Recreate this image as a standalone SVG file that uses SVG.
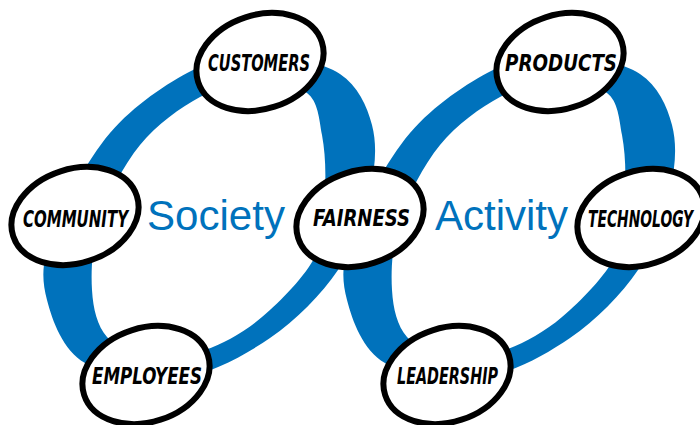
<svg xmlns="http://www.w3.org/2000/svg" xmlns:xlink="http://www.w3.org/1999/xlink" width="700" height="425" viewBox="0 0 700 425">
<style>
.ring{fill:#0072BC;fill-rule:evenodd}
.node ellipse{fill:#fff;stroke:#000;stroke-width:6}
.node text{font-family:"Liberation Sans Narrow","DejaVu Sans Condensed","Liberation Sans",sans-serif;font-weight:bold;font-style:italic;font-size:23px;fill:#000;text-anchor:middle}
.big{font-family:"Liberation Sans",Arial,sans-serif;font-size:42px;fill:#0072BC}
</style>
<defs>
<path id="ring" class="ring" d="M193,70 C218.8,57 240.5,54.3 265,55 C289.5,55.7 322.2,62.3 340,74 C357.8,85.7 367,105.7 372,125 C377,144.3 375.7,165.8 370,190 C364.3,214.2 354.7,245.3 338,270 C321.3,294.7 296.3,320 270,338 C243.7,356 210.8,373.8 180,378 C149.2,382.2 107.2,376 85,363 C62.8,350 52.5,321.3 47,300 C41.5,278.7 41.5,262.8 52,235 C62.5,207.2 86.5,160.5 110,133 C133.5,105.5 167.2,83 193,70 Z M200,97 C219.2,86.8 237.2,84.7 255,84 C272.8,83.3 295.8,84.5 307,93 C318.2,101.5 319,118.8 322,135 C325,151.2 326,170 325,190 C324,210 326.5,233.8 316,255 C305.5,276.2 280.5,301.2 262,317 C243.5,332.8 223.7,343.2 205,350 C186.3,356.8 166.3,360.2 150,358 C133.7,355.8 116.7,348.3 107,337 C97.3,325.7 93.2,309.5 92,290 C90.8,270.5 92,244.2 100,220 C108,195.8 123.3,165.5 140,145 C156.7,124.5 180.8,107.2 200,97 Z"/>
</defs>
<g id="connectors">
<use xlink:href="#ring" href="#ring"/>
<use xlink:href="#ring" href="#ring" x="300"/>
</g>
<text class="big" x="147" y="230" textLength="138" lengthAdjust="spacingAndGlyphs">Society</text>
<text class="big" x="435" y="230" textLength="133" lengthAdjust="spacingAndGlyphs">Activity</text>
<g id="customers" class="node">
<ellipse cx="260" cy="62" rx="65" ry="47" transform="rotate(-18 260 62)"/>
<text x="259" y="71" textLength="102" lengthAdjust="spacingAndGlyphs">CUSTOMERS</text>
</g>
<g id="products" class="node">
<ellipse cx="560" cy="62" rx="65" ry="47" transform="rotate(-18 560 62)"/>
<text x="561" y="71" textLength="112" lengthAdjust="spacingAndGlyphs">PRODUCTS</text>
</g>
<g id="community" class="node">
<ellipse cx="75" cy="216" rx="65" ry="47" transform="rotate(-18 75 216)"/>
<text x="75.5" y="227" textLength="105" lengthAdjust="spacingAndGlyphs">COMMUNITY</text>
</g>
<g id="fairness" class="node">
<ellipse cx="360" cy="218" rx="65" ry="47" transform="rotate(-18 360 218)"/>
<text x="361.5" y="226" textLength="97" lengthAdjust="spacingAndGlyphs">FAIRNESS</text>
</g>
<g id="technology" class="node">
<ellipse cx="641" cy="218" rx="65" ry="47" transform="rotate(-18 641 218)"/>
<text x="640.5" y="227" textLength="105" lengthAdjust="spacingAndGlyphs">TECHNOLOGY</text>
</g>
<g id="employees" class="node">
<ellipse cx="146" cy="375" rx="65" ry="47" transform="rotate(-18 146 375)"/>
<text x="147" y="384" textLength="110" lengthAdjust="spacingAndGlyphs">EMPLOYEES</text>
</g>
<g id="leadership" class="node">
<ellipse cx="447" cy="375" rx="65" ry="47" transform="rotate(-18 447 375)"/>
<text x="447.5" y="384" textLength="101" lengthAdjust="spacingAndGlyphs">LEADERSHIP</text>
</g>
</svg>
